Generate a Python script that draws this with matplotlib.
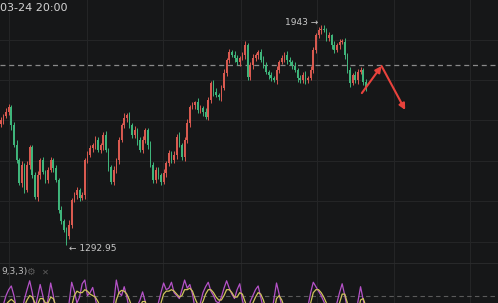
import numpy as np
import matplotlib
matplotlib.use("Agg")
from matplotlib import pyplot as plt

# closing prices, one per candle
closes = [
    1662, 1675, 1686, 1701, 1647, 1590, 1544, 1476, 1529, 1455,
    1529, 1582, 1500, 1435, 1500, 1544, 1509, 1485, 1514, 1544,
    1520, 1485, 1396, 1365, 1337, 1320, 1352, 1426, 1441, 1455,
    1432, 1441, 1544, 1559, 1580, 1588, 1603, 1574, 1588, 1618,
    1574, 1523, 1479, 1514, 1544, 1603, 1647, 1668, 1677, 1647,
    1618, 1633, 1603, 1574, 1603, 1633, 1588, 1529, 1485, 1514,
    1500, 1479, 1506, 1535, 1565, 1544, 1559, 1612, 1588, 1553,
    1603, 1653, 1701, 1707, 1715, 1692, 1698, 1686, 1671, 1721,
    1772, 1745, 1736, 1730, 1757, 1801, 1840, 1863, 1854, 1845,
    1834, 1845, 1854, 1884, 1789, 1825, 1845, 1854, 1863, 1840,
    1825, 1804, 1795, 1786, 1780, 1810, 1834, 1845, 1854, 1840,
    1834, 1822, 1810, 1786, 1780, 1795, 1780, 1786, 1810, 1869,
    1913, 1928, 1930, 1928, 1905, 1913, 1884, 1869, 1884, 1893,
    1893, 1854, 1810, 1772, 1795, 1780, 1804, 1810, 1775, 1757,
]
first_open = 1650

# wick lengths above / below the body
wick_hi = [
    10, 6, 12, 8, 5, 9, 14, 7, 11, 6,
    13, 8, 6, 10, 12, 5, 9, 7, 11, 8,
    6, 10, 7, 12, 5, 8, 14, 6, 9, 11,
    7, 10, 5, 12, 8, 6, 13, 9, 7, 10,
    11, 6, 8, 12, 5, 9, 7, 14, 6, 10,
    8, 12, 5, 9, 11, 7, 6, 13, 8, 10,
    9, 6, 12, 7, 10, 5, 11, 8, 14, 6,
    9, 12, 7, 10, 5, 11, 8, 6, 13, 9,
    7, 10, 12, 6, 8, 11, 5, 9, 7, 12,
    10, 6, 8, 13, 5, 9, 11, 7, 6, 10,
    12, 8, 5, 9, 7, 11, 6, 10, 8, 12,
    9, 6, 11, 7, 10, 8, 12, 5, 13, 9,
    6, 10, 13, 12, 7, 9, 5, 11, 6, 10,
    8, 12, 7, 9, 6, 11, 8, 10, 5, 9,
]
wick_lo = [
    8, 11, 6, 9, 13, 7, 10, 5, 12, 8,
    6, 10, 9, 7, 11, 13, 5, 8, 10, 6,
    12, 7, 9, 11, 6, 27.05, 8, 10, 5, 12,
    9, 6, 11, 8, 7, 12, 10, 6, 9, 13,
    7, 11, 5, 10, 8, 12, 6, 9, 11, 7,
    10, 8, 13, 6, 9, 7, 12, 5, 10, 8,
    11, 9, 6, 12, 7, 10, 8, 13, 6, 9,
    12, 7, 10, 5, 11, 8, 9, 12, 6, 10,
    8, 11, 7, 9, 12, 6, 10, 8, 5, 11,
    9, 13, 6, 10, 8, 7, 12, 9, 11, 6,
    10, 7, 12, 8, 6, 11, 9, 5, 10, 13,
    8, 10, 6, 12, 9, 7, 11, 8, 6, 10,
    9, 7, 12, 6, 10, 8, 11, 9, 5, 12,
    7, 10, 8, 13, 6, 9, 11, 7, 10, 8,
]

# KDJ indicator (lower panel)
kdj_j = [
    55, 68, 80, 88, 93, 80, 62, 45, 58, 75,
    88, 100, 84, 62, 78, 95, 80, 60, 75, 97,
    80, 58, 40, 25, 20, 35, 70, 98, 86, 70,
    78, 96, 101, 80, 84, 91, 76, 60, 52, 62,
    58, 45, 36, 70, 101, 84, 80, 92, 78, 60,
    52, 58, 66, 74, 85, 72, 48, 32, 45, 58,
    70, 84, 97, 88, 90, 98, 84, 80, 76, 88,
    101, 90, 95, 82, 62, 60, 70, 84, 92, 98,
    86, 80, 72, 70, 78, 90, 100, 90, 82, 76,
    88, 96, 74, 60, 52, 72, 80, 88, 93, 78,
    62, 48, 40, 52, 75, 97, 82, 66, 55, 60,
    54, 48, 42, 38, 48, 56, 52, 66, 84, 98,
    92, 86, 80, 72, 64, 58, 55, 52, 70, 84,
    96, 80, 62, 42, 30, 45, 72, 92, 74, 58,
]
kdj_k = [
    58, 62, 68, 72, 75, 72, 64, 56, 58, 66,
    74, 80, 78, 70, 68, 76, 76, 70, 70, 78,
    76, 66, 52, 40, 32, 34, 48, 66, 80, 86,
    84, 84, 88, 86, 82, 80, 78, 72, 64, 62,
    60, 54, 48, 56, 74, 84, 87, 86, 82, 74,
    64, 60, 62, 66, 72, 72, 62, 50, 48, 52,
    58, 70, 82, 86, 86, 88, 86, 82, 78, 80,
    88, 88, 90, 86, 76, 68, 66, 72, 82, 88,
    88, 84, 78, 74, 74, 80, 88, 88, 84, 78,
    78, 84, 82, 72, 62, 64, 70, 78, 84, 82,
    74, 62, 52, 50, 58, 76, 80, 74, 64, 60,
    56, 52, 48, 44, 44, 50, 52, 58, 70, 84,
    88, 88, 84, 78, 70, 64, 58, 54, 58, 70,
    82, 82, 70, 56, 42, 42, 56, 74, 76, 66,
]

ref_level = 1825
kdj_level = 80
# hand-drawn projection arrows (candle index, price)
arrow_path = [(137.5, 1742), (145.0, 1822), (154.0, 1692)]
time_label = "03-24 20:00"
kdj_label = "9,3,3)"

bg = "#161718"
grid_c = "#242526"
up_c = "#d95a50"
dn_c = "#3fb57b"

c = np.array(closes, dtype=float)
o = np.concatenate([[first_open], c[:-1]])
highs = np.maximum(o, c) + np.array(wick_hi)
lows = np.minimum(o, c) - np.array(wick_lo)
x = np.arange(len(c))
cols = [up_c if cc >= oo else dn_c for oo, cc in zip(o, c)]

W, H = 498, 303
main_h = 263
step = 2.626  # pixels per candle
x_left = -0.3
xr = (x_left, x_left + W / step)
ylo, yhi = 1240, 2017

fig = plt.figure(figsize=(W / 100, H / 100), dpi=100, facecolor=bg)
ax = fig.add_axes([0, (H - main_h) / H, 1, main_h / H])
ax2 = fig.add_axes([0, 0, 1, (H - main_h) / H])

for a in (ax, ax2):
    a.set_facecolor(bg)
    a.set_xlim(*xr)
    a.tick_params(left=False, bottom=False, labelleft=False, labelbottom=False)
    for s in a.spines.values():
        s.set_visible(False)

# grid positions (pixels -> data)
grid_px = [9, 87, 163, 241, 317, 394, 470]
gx = [x_left + p / step for p in grid_px]
gy_px = [40, 80, 120, 161, 201, 242]
gy = [yhi - p * (yhi - ylo) / main_h for p in gy_px]
for a in (ax, ax2):
    for v in gx:
        a.axvline(v, color=grid_c, lw=0.8, zorder=0)
for v in gy:
    ax.axhline(v, color=grid_c, lw=0.8, zorder=0)

ax.set_ylim(ylo, yhi)
ax.vlines(x, lows, highs, colors=cols, lw=0.7, zorder=2)
ax.bar(x, np.maximum(np.abs(c - o), 2), bottom=np.minimum(o, c), width=0.62,
       color=cols, zorder=3, linewidth=0)

ax.axhline(ref_level, color="#8a8a8a", lw=0.9, dashes=(4, 3), zorder=1)

hi_i = int(np.argmax(highs))
lo_i = int(np.argmin(lows))
ax.annotate(f"{highs[hi_i]:g} \u2192", xy=(x[hi_i], highs[hi_i]), xytext=(-2, 1.5),
            textcoords="offset points", ha="right", va="center",
            fontsize=6.5, color="#c8c8c8")
ax.annotate(f"\u2190 {lows[lo_i]:.2f}", xy=(x[lo_i], lows[lo_i]), xytext=(2, -2.5),
            textcoords="offset points", ha="left", va="center",
            fontsize=6.5, color="#c8c8c8")

arr = dict(arrowstyle="-|>", color="#e8423c", lw=1.5, mutation_scale=9,
           shrinkA=0, shrinkB=0)
ax.annotate("", xy=arrow_path[1], xytext=arrow_path[0], arrowprops=arr, zorder=5)
ax.annotate("", xy=arrow_path[2], xytext=arrow_path[1], arrowprops=arr, zorder=5)

fig.text(0.0, 1 - 8 / H, time_label, ha="left", va="center", fontsize=8, color="#d4d4d4")

# lower panel
ax2.set_ylim(70, 124)
ax2.axhline(124, color="#2c2d2e", lw=1.2)
ax2.axhline(kdj_level, color="#5a5a5a", lw=0.8, dashes=(4, 3), zorder=1)
ax2.plot(x, kdj_k, color="#cfc45c", lw=0.9, zorder=3)
ax2.plot(x, kdj_j, color="#b552c8", lw=0.9, zorder=2)
ax2.text(0.002, 0.78, kdj_label, transform=ax2.transAxes, ha="left", va="center",
         fontsize=6.5, color="#bdbdbd")
ax2.text(0.062, 0.78, "\u2699", transform=ax2.transAxes, ha="center", va="center",
         fontsize=7, color="#5c5c5c")
ax2.text(0.092, 0.78, "\u2715", transform=ax2.transAxes, ha="center", va="center",
         fontsize=6, color="#5c5c5c")

plt.savefig("out.png", dpi=100, facecolor=bg)
